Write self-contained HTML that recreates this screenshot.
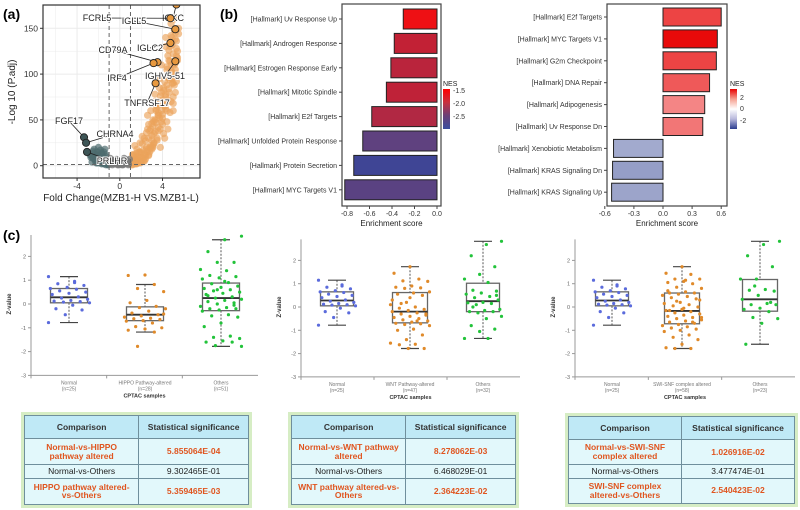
<!DOCTYPE html>
<html><head><meta charset="utf-8"><style>
body{margin:0;background:#fff;width:800px;height:510px;overflow:hidden;position:relative;font-family:"Liberation Sans",sans-serif}
svg{position:absolute;left:0;top:0}
.tw{position:absolute;background:#d6edc4;padding:3px}
table{border-collapse:collapse;width:100%;height:100%;font-size:8.5px;text-align:center;table-layout:fixed}
td,th{border:1px solid #6f8f9c;padding:0 4px;line-height:1.05}
th{background:#bfe9f6;color:#333;font-weight:bold;height:22px}
td{background:#e2f8fb;color:#222}
td.hl{color:#e0551f;font-weight:bold}
</style></head><body>
<svg id="fig" width="800" height="510" xmlns="http://www.w3.org/2000/svg" font-family="Liberation Sans, sans-serif"></svg>

<div class="tw" style="left:21px;top:412px;width:225px;height:90px">
<table><colgroup><col style="width:51%"><col style="width:49%"></colgroup><tr><th>Comparison</th><th>Statistical significance</th></tr>
<tr><td class="hl">Normal-vs-HIPPO pathway altered</td><td class="hl">5.855064E-04</td></tr>
<tr><td>Normal-vs-Others</td><td>9.302465E-01</td></tr>
<tr><td class="hl">HIPPO pathway altered-vs-Others</td><td class="hl">5.359465E-03</td></tr></table></div>

<div class="tw" style="left:288px;top:412px;width:225px;height:90px">
<table><colgroup><col style="width:51%"><col style="width:49%"></colgroup><tr><th>Comparison</th><th>Statistical significance</th></tr>
<tr><td class="hl">Normal-vs-WNT pathway altered</td><td class="hl">8.278062E-03</td></tr>
<tr><td>Normal-vs-Others</td><td>6.468029E-01</td></tr>
<tr><td class="hl">WNT pathway altered-vs-Others</td><td class="hl">2.364223E-02</td></tr></table></div>

<div class="tw" style="left:565px;top:413px;width:227px;height:88px">
<table><colgroup><col style="width:50%"><col style="width:50%"></colgroup><tr><th>Comparison</th><th>Statistical significance</th></tr>
<tr><td class="hl">Normal-vs-SWI-SNF complex altered</td><td class="hl">1.026916E-02</td></tr>
<tr><td>Normal-vs-Others</td><td>3.477474E-01</td></tr>
<tr><td class="hl">SWI-SNF complex altered-vs-Others</td><td class="hl">2.540423E-02</td></tr></table></div>

<script>
// ---- Volcano data ----
const orangeFC=[1.1,1.3,1.5,1.2,1.8,2.0,1.6,1.4,2.2,2.5,1.9,2.8,2.3,3.0,2.6,1.7,2.1,2.4,3.2,2.7,3.5,3.1,2.9,3.8,3.4,3.6,4.0,3.3,3.9,4.2,3.7,4.4,4.1,4.6,4.3,4.8,4.5,5.0,4.7,5.2,4.9,5.4,3.0,3.2,3.6,4.0,4.4,4.8,5.1,5.3,4.6,4.9,5.2,5.5,4.2,4.5,3.8,4.7,5.0,5.3,4.4,4.9,5.1,3.5,3.9,4.3,2.6,2.9,3.3,1.5,2.0,2.4,1.2,1.6,1.9,2.2,1.3,1.8,2.7,3.1,4.1,4.6,5.4,5.0,4.8,3.7,4.3,5.2,
 1.1,1.4,1.7,2.0,2.3,1.2,1.5,1.8,2.1,2.4,2.7,1.3,1.6,1.9,2.2,2.5,2.8,3.1,1.4,1.7,2.0,2.3,2.6,2.9,3.2,3.5,2.1,2.4,2.7,3.0,3.3,3.6,3.9,2.5,2.8,3.1,3.4,3.7,4.0,4.3,3.0,3.3,3.6,3.9,4.2,4.5,3.4,3.7,4.0,4.3,4.6,4.9,3.8,4.1,4.4,4.7,5.0,4.2,4.5,4.8,5.1,5.4,4.4,4.7,5.0,5.3,4.6,4.9,5.2,5.5,4.8,5.1,5.3,4.5,4.9,5.2,4.1,3.6,3.2,2.9,5.3,5.0];
const orangeP=[3,6,9,12,5,14,18,22,8,20,25,15,30,28,40,10,32,12,35,45,30,50,22,40,60,55,45,70,80,65,95,60,85,100,75,110,120,90,130,105,140,125,18,25,38,52,48,70,88,100,115,135,145,150,30,40,20,58,75,120,105,95,160,65,110,130,55,60,78,2,4,7,1,2,3,5,11,15,12,20,35,80,115,60,155,85,140,80,
 1,2,3,4,5,6,7,8,9,10,11,12,14,15,17,18,20,22,3,6,9,13,16,19,24,28,24,27,30,33,37,42,48,36,38,43,47,52,56,62,46,50,55,60,66,72,62,67,72,78,84,90,76,82,88,94,100,92,98,104,110,118,108,114,122,128,126,132,138,144,142,148,136,96,102,112,70,58,48,40,92,68];
const tealFC=[-1.2,-1.5,-1.8,-2.1,-2.4,-1.3,-1.6,-1.9,-2.2,-2.5,-2.8,-1.4,-1.7,-2.0,-2.3,-2.6,-1.1,-1.5,-1.9,-2.4,-2.7,-1.2,-1.8,-2.2,-2.0,-1.6,-1.1,-1.3,-1.5,-1.7,-1.9,-2.1,-2.3,-2.5,-1.2,-1.4,-1.6,-1.8,-2.0,-2.2,-1.3,-1.7,-2.1,-2.6,-1.0,-1.4];
const tealP=[2,5,8,12,14,10,3,6,9,16,12,18,13,20,7,4,1,15,4,18,9,7,17,3,11,9,1,1,2,2,3,3,5,8,4,5,6,8,10,12,12,14,15,10,3,8];
const grayFC=[-0.8,-0.5,-0.2,0.1,0.4,0.7,0.9,-0.6,-0.3,0.2,0.5,0.8,-0.9,0.0,0.6,-0.4,-0.7,-0.1,0.3,0.8,-0.5,0.1,0.6,-0.8,-0.3,0.4];
const grayP=[2,4,1,3,2,5,7,6,3,1,4,2,8,2,6,5,1,1,1,1,2,5,3,4,7,8];
const genes=["IGKC","FCRL5","IGLL5","IGLC2","CD79A","IRF4","IGHV5-51","TNFRSF17","FGF17","CHRNA4","PRLHR"];
const geneFC=[5.3,4.74,5.2,4.74,3.53,3.16,5.2,3.35,-3.35,-3.16,-3.07];
const geneP=[176,161,149,134,113,112,114,90,31,25,15];
const volXTicks=[-4,0,4];
const volYTicks=[0,50,100,150];
// ---- Enrichment data ----
const leftTerms=["[Hallmark] Uv Response Up","[Hallmark] Androgen Response","[Hallmark] Estrogen Response Early","[Hallmark] Mitotic Spindle","[Hallmark] E2f Targets","[Hallmark] Unfolded Protein Response","[Hallmark] Protein Secretion","[Hallmark] MYC Targets V1"];
const leftES=[-0.30,-0.38,-0.41,-0.45,-0.58,-0.66,-0.74,-0.82];
const leftNES=[-1.45,-1.7,-1.75,-1.72,-1.8,-2.4,-2.75,-2.45];
const leftTicks=[-0.8,-0.6,-0.4,-0.2,0.0];
const rightTerms=["[Hallmark] E2f Targets","[Hallmark] MYC Targets V1","[Hallmark] G2m Checkpoint","[Hallmark] DNA Repair","[Hallmark] Adipogenesis","[Hallmark] Uv Response Dn","[Hallmark] Xenobiotic Metabolism","[Hallmark] KRAS Signaling Dn","[Hallmark] KRAS Signaling Up"];
const rightES=[0.60,0.56,0.55,0.48,0.43,0.41,-0.51,-0.52,-0.53];
const rightNES=[2.6,3.4,2.6,2.3,1.7,1.9,-1.4,-1.6,-1.5];
const rightTicks=[-0.6,-0.3,0.0,0.3,0.6];
// ---- Box plot data ----
const normalZ=[1.15,0.95,0.85,0.78,0.7,0.65,0.62,0.55,0.5,0.45,0.4,0.3,0.25,0.2,0.15,0.12,0.1,0.08,0.05,-0.05,-0.2,-0.25,-0.45,-0.78,0.9];
const hippoZ=[1.22,1.2,0.82,0.65,0.52,0.15,0.05,-0.1,-0.15,-0.2,-0.3,-0.38,-0.45,-0.5,-0.55,-0.6,-0.62,-0.65,-0.7,-0.72,-0.8,-0.95,-1.0,-1.05,-1.1,-1.18,-1.78,-0.42];
const others1Z=[2.85,2.7,2.2,1.75,1.75,1.45,1.4,1.2,1.15,1.1,1.05,0.9,0.85,0.75,0.7,0.65,0.6,0.55,0.5,0.45,0.4,0.3,0.25,0.2,0.15,0.1,0.05,0.0,-0.1,-0.15,-0.2,-0.2,-0.25,-0.3,-0.45,-0.5,-0.55,-0.8,-0.95,-1.35,-1.4,-1.45,-1.55,-1.6,-1.6,-1.75,-1.78,0.95,0.35,-0.05,0.6];
const wntZ=[1.73,1.45,1.2,1.12,1.1,0.9,0.85,0.82,0.8,0.65,0.6,0.55,0.5,0.2,0.1,0.0,-0.05,-0.1,-0.15,-0.2,-0.25,-0.3,-0.35,-0.4,-0.45,-0.5,-0.55,-0.6,-0.65,-0.7,-0.72,-0.75,-0.8,-0.95,-1.0,-1.2,-1.4,-1.55,-1.6,-1.62,-1.78,-1.78,0.3,-0.6,0.15,-0.3,0.4];
const others2Z=[2.82,2.68,2.2,1.73,1.4,1.2,1.05,0.72,0.68,0.6,0.55,0.45,0.4,0.3,0.2,0.18,0.15,0.1,-0.1,-0.15,-0.2,-0.2,-0.25,-0.4,-0.5,-0.8,-0.95,-1.05,-1.35,-1.35,0.0,0.5];
const swiZ=[1.73,1.45,1.4,1.2,1.2,1.1,1.05,1.0,0.85,0.8,0.65,0.6,0.6,0.55,0.5,0.45,0.4,0.35,0.2,0.15,0.1,0.05,0.0,-0.1,-0.15,-0.2,-0.25,-0.3,-0.35,-0.4,-0.45,-0.5,-0.55,-0.6,-0.65,-0.7,-0.75,-0.8,-0.85,-0.9,-0.95,-1.0,-1.05,-1.2,-1.3,-1.4,-1.6,-1.75,-1.78,-1.78,0.3,-0.05,0.7,-0.65,0.25,-0.45,1.15,-0.15];
const others3Z=[2.82,2.68,2.2,1.73,1.2,1.2,0.75,0.72,0.68,0.5,0.33,0.15,0.1,0.1,-0.05,-0.1,-0.2,-0.45,-0.5,-0.7,-1.6,0.2,0.9];
const boxStats=[
 [[0.05,0.28,0.65,-0.78,1.15],[-0.7,-0.45,-0.12,-1.18,0.82],[-0.28,0.25,0.88,-1.78,2.7]],
 [[0.05,0.28,0.65,-0.78,1.15],[-0.68,-0.2,0.62,-1.78,1.73],[-0.2,0.25,1.02,-1.35,2.82]],
 [[0.05,0.28,0.65,-0.78,1.15],[-0.72,-0.17,0.6,-1.78,1.73],[-0.18,0.33,1.18,-1.6,2.82]]];
const zTicks=[-3,-2,-1,0,1,2];

const S=document.getElementById('fig');
const NS='http://www.w3.org/2000/svg';
function mk(tag,at,parent,txt){const e=document.createElementNS(NS,tag);for(const k in at)e.setAttribute(k,at[k]);if(txt!==undefined)e.textContent=txt;(parent||S).appendChild(e);return e;}

let t;
t=mk('text',{x:3,y:19,'font-size':14,'font-weight':'bold'},S,'(a)');


t=mk('text',{x:220,y:19,'font-size':14,'font-weight':'bold'},S,'(b)');


t=mk('text',{x:3,y:240,'font-size':14,'font-weight':'bold'},S,'(c)');



// ===== Volcano =====
const vx=v=>119.8+v*10.68, vy=v=>165.7-v*0.916;
const vg=mk('g',{});


const cp=mk('clipPath',{id:'volclip'},mk('defs',{},vg));
mk('rect',{x:43,y:5,width:157,height:173},cp);
mk('rect',{x:43,y:5,width:157,height:173,fill:'#fff',stroke:'none'},vg);
for(let k=-6;k<=6;k+=2){mk('line',{x1:vx(k),x2:vx(k),y1:5,y2:178,stroke:'#ebebeb','stroke-width':k%4===0?1:0.5},vg);}
for(let k=0;k<=175;k+=25){mk('line',{x1:43,x2:200,y1:vy(k),y2:vy(k),stroke:'#ebebeb','stroke-width':k%50===0?1:0.5},vg);}
const pg=mk('g',{'clip-path':'url(#volclip)'},vg);
orangeFC.forEach((f,i)=>{const c=mk('circle',{cx:vx(f),cy:vy(orangeP[i]),r:3.6,fill:'#eba35a','fill-opacity':0.65},pg);});
tealFC.forEach((f,i)=>{const c=mk('circle',{cx:vx(f),cy:vy(tealP[i]),r:3.6,fill:'#4d6b6d','fill-opacity':0.7},pg);});
grayFC.forEach((f,i)=>{const c=mk('circle',{cx:vx(f),cy:vy(grayP[i]),r:3.6,fill:'#777','fill-opacity':0.75},pg);});
mk('line',{x1:vx(-1),x2:vx(-1),y1:5,y2:178,stroke:'#666','stroke-dasharray':'4,3'},vg);
mk('line',{x1:vx(1),x2:vx(1),y1:5,y2:178,stroke:'#666','stroke-dasharray':'4,3'},vg);
mk('line',{x1:43,x2:200,y1:vy(1.3),y2:vy(1.3),stroke:'#666','stroke-dasharray':'4,3'},vg);
const labPos=[[173,21],[97,21],[134,24],[150,51],[113,53],[117,81],[165,79],[147,106],[69,124],[115,137],[112,164]];
genes.forEach((g,i)=>{const px=vx(geneFC[i]),py=vy(geneP[i]);const lx=labPos[i][0],ly=labPos[i][1]-3;
 mk('line',{x1:lx,y1:ly,x2:px,y2:py,stroke:'#222','stroke-width':0.8},vg);
 const c=mk('circle',{cx:px,cy:py,r:3.6,fill:i<8?'#e8993f':'#3d5556',stroke:'#222','stroke-width':0.9,'clip-path':'url(#volclip)'},vg);
 
 
 const tt=mk('text',{x:lx,y:labPos[i][1],'font-size':9,'text-anchor':'middle',fill:'#222',stroke:'#fff','stroke-width':2,'paint-order':'stroke'},vg,g);
 
 });
mk('rect',{x:43,y:5,width:157,height:173,fill:'none',stroke:'#333','stroke-width':1.2},vg);
volXTicks.forEach(v=>{mk('line',{x1:vx(v),x2:vx(v),y1:178,y2:181,stroke:'#333'},vg);mk('text',{x:vx(v),y:189,'font-size':8.5,'text-anchor':'middle',fill:'#333'},vg,v);});
volYTicks.forEach(v=>{mk('line',{x1:40,x2:43,y1:vy(v),y2:vy(v),stroke:'#333'},vg);mk('text',{x:38,y:vy(v)+3,'font-size':8.5,'text-anchor':'end',fill:'#333'},vg,v);});
t=mk('text',{x:121,y:201,'font-size':10,'text-anchor':'middle',fill:'#222'},vg,'Fold Change(MZB1-H VS.MZB1-L)');


t=mk('text',{x:0,y:0,'font-size':10,'text-anchor':'middle',fill:'#222',transform:'translate(15,92) rotate(-90)'},vg,'-Log 10 (P.adj)');



// ===== Enrichment bars =====
function lerp(a,b,f){return a.map((v,i)=>Math.round(v+(b[i]-v)*f));}
function rgb(c){return 'rgb('+c.join(',')+')';}
function leftColor(n){const f=Math.min(1,Math.max(0,(-1.45-n)/(2.8-1.45)));return f<0.5?rgb(lerp([238,16,20],[120,62,110],f*2)):rgb(lerp([120,62,110],[58,70,152],(f-0.5)*2));}
function rightColor(n){if(n>=0)return rgb(lerp([255,255,255],[232,10,10],Math.min(1,n/3.4)));return rgb(lerp([255,255,255],[43,60,142],Math.min(1,-n/3.2)));}
function barPanel(name,terms,es,nes,ticks,x0,x1,zeroX,scale,yTop,step,bh,colorFn,legX,legTicks,legStops){
 const g=mk('g',{});
 
 
 const bx=v=>zeroX+v*scale;
 mk('rect',{x:x0,y:4,width:x1-x0,height:202,fill:'#fff',stroke:'#444','stroke-width':1.2},g);
 terms.forEach((tm,i)=>{const cy=yTop+i*step;const a=bx(Math.min(0,es[i])),b=bx(Math.max(0,es[i]));
  const r=mk('rect',{x:a,y:cy-bh/2,width:b-a,height:bh,fill:colorFn(nes[i]),stroke:'#222','stroke-width':1},g);
  
  
  mk('line',{x1:x0-3,x2:x0,y1:cy,y2:cy,stroke:'#444'},g);
  mk('text',{x:x0-5,y:cy+2.5,'font-size':7,'text-anchor':'end',fill:'#333'},g,tm);});
 ticks.forEach(v=>{mk('line',{x1:bx(v),x2:bx(v),y1:206,y2:209,stroke:'#444'},g);mk('text',{x:bx(v),y:216,'font-size':7,'text-anchor':'middle',fill:'#333'},g,v.toFixed(1));});
 const tt=mk('text',{x:(x0+x1)/2,y:226,'font-size':8,'text-anchor':'middle',fill:'#222'},g,'Enrichment score');
 
 
 const id='grad'+name;const d=mk('defs',{},g);const lg=mk('linearGradient',{id:id,x1:0,y1:0,x2:0,y2:1},d);
 legStops.forEach((c,i)=>mk('stop',{offset:(i/(legStops.length-1)),'stop-color':c},lg));
 const lgd=mk('g',{},g);
 
 
 mk('text',{x:legX,y:86,'font-size':7,fill:'#222'},lgd,'NES');
 mk('rect',{x:legX,y:89,width:7,height:40,fill:'url(#'+id+')'},lgd);
 legTicks.forEach(tk=>mk('text',{x:legX+10,y:tk[1],'font-size':7,fill:'#333'},lgd,tk[0]));
}
barPanel('enrichment-down',leftTerms,leftES,leftNES,leftTicks,342,441,437,112.5,19,24.4,20,leftColor,443,[['-1.5',93],['-2.0',106],['-2.5',119]],['#ff0000','#c8303e','#6a3f78','#3a4fa0']);
barPanel('enrichment-up',rightTerms,rightES,rightNES,rightTicks,607,727,663,97,17,21.9,18,rightColor,730,[['2',100],['0',111],['-2',123]],['#e80000','#f5a090','#ffffff','#b8b8dc','#2b3c8e']);

// ===== Box plots =====
const groupsData=[[normalZ,hippoZ,others1Z],[normalZ,wntZ,others2Z],[normalZ,swiZ,others3Z]];
const groupLabels=[["Normal","HIPPO Pathway-altered","Others"],["Normal","WNT Pathway-altered","Others"],["Normal","SWI-SNF complex altered","Others"]];
const groupN=[["(n=25)","(n=28)","(n=51)"],["(n=25)","(n=47)","(n=32)"],["(n=25)","(n=58)","(n=23)"]];
const ptColors=['#5b6bdc','#e08a2a','#22c33a'];
const layout=[{ax:31,end:258,zero:304,unit:23.8,cx:[69,145,221],bw:[37,37,37]},{ax:301,end:520,zero:307,unit:23.3,cx:[337,410,483],bw:[33,35,33]},{ax:575,end:795,zero:307,unit:23.3,cx:[612,682,760],bw:[33,35,35]}];
layout.forEach((L,p)=>{
 const g=mk('g',{});
 
 
 const zy=v=>L.zero-v*L.unit;
 mk('line',{x1:L.ax,x2:L.ax,y1:zy(2.9),y2:zy(-3),stroke:'#999'},g);
 mk('line',{x1:L.ax,x2:L.end,y1:zy(-3),y2:zy(-3),stroke:'#999'},g);
 zTicks.forEach(v=>{mk('line',{x1:L.ax-3,x2:L.ax,y1:zy(v),y2:zy(v),stroke:'#999'},g);mk('text',{x:L.ax-5,y:zy(v)+2,'font-size':5.5,'text-anchor':'end',fill:'#666'},g,v);});
 const yt=mk('text',{x:0,y:0,'font-size':6,'font-weight':'bold','text-anchor':'middle',fill:'#333',transform:'translate('+(L.ax-20)+','+zy(0)+') rotate(-90)'},g,'Z-value');
 
 
 const xt=mk('text',{x:(L.ax+L.end)/2,y:zy(-3)+22,'font-size':5.5,'font-weight':'bold','text-anchor':'middle',fill:'#333'},g,'CPTAC samples');
 
 
 for(let k=0;k<3;k++){
  const cx=L.cx[k],bw=L.bw[k],s=boxStats[p][k];
  mk('line',{x1:L.ax+(L.end-L.ax)*k/3,x2:L.ax+(L.end-L.ax)*k/3,y1:zy(-3),y2:zy(-3)+3,stroke:'#999'},g);
  mk('text',{x:cx,y:zy(-3)+9,'font-size':5,'text-anchor':'middle',fill:'#777'},g,groupLabels[p][k]);
  mk('text',{x:cx,y:zy(-3)+15,'font-size':5,'text-anchor':'middle',fill:'#777'},g,groupN[p][k]);
  mk('line',{x1:cx,x2:cx,y1:zy(s[4]),y2:zy(s[2]),stroke:'#555','stroke-dasharray':'2,1.5'},g);
  mk('line',{x1:cx,x2:cx,y1:zy(s[0]),y2:zy(s[3]),stroke:'#555','stroke-dasharray':'2,1.5'},g);
  mk('line',{x1:cx-9,x2:cx+9,y1:zy(s[4]),y2:zy(s[4]),stroke:'#444','stroke-width':1.2},g);
  mk('line',{x1:cx-9,x2:cx+9,y1:zy(s[3]),y2:zy(s[3]),stroke:'#444','stroke-width':1.2},g);
  const b=mk('rect',{x:cx-bw/2,y:zy(s[2]),width:bw,height:zy(s[0])-zy(s[2]),fill:'none',stroke:'#666','stroke-width':1.3},g);
  
  
  mk('line',{x1:cx-bw/2,x2:cx+bw/2,y1:zy(s[1]),y2:zy(s[1]),stroke:'#333','stroke-width':1.8},g);
  groupsData[p][k].forEach((v,i)=>{const j=(((i*37+k*11)%23)-11)/11*(bw/2+2);
   const c=mk('circle',{cx:cx+j,cy:zy(v),r:1.6,fill:ptColors[k]},g);
   
   });
 }
});
</script>
</body></html>
